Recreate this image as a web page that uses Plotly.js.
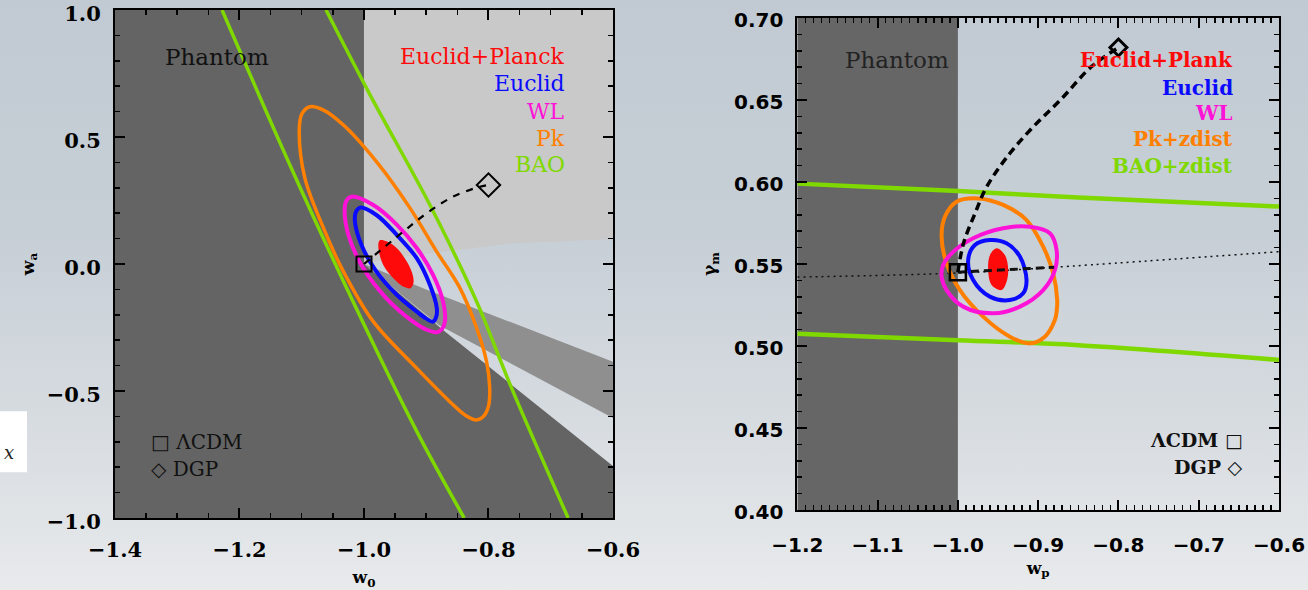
<!DOCTYPE html>
<html>
<head>
<meta charset="utf-8">
<script src="https://cdn.plot.ly/plotly-3.0.1.min.js"></script>
<style>
  html, body { margin: 0; padding: 0; }
  body {
    width: 1308px; height: 590px; overflow: hidden;
    background: linear-gradient(180deg, #c1cad3 0%, #c7cfd6 40%, #d6dbe0 70%, #e8eaec 100%);
  }
  #chart { width: 1308px; height: 590px; }
</style>
</head>
<body>
<div id="chart"></div>
<script>
// ---------- Left panel: (w0, wa) ----------
// background regions
const phantomDarkW0 = [-1.4, -1.4, -1.0, -1.0, -0.87, -0.6, -0.6, -1.4];
const phantomDarkWa = [-1.0, 1.0, 1.0, 0.0, -0.266, -0.795, -1.0, -1.0];
const lightGrayW0 = [-1.0, -1.0, -0.6, -0.6, -0.765, -0.878, -0.95, -1.0];
const lightGrayWa = [0.0, 1.0, 1.0, 0.098, 0.081, 0.048, 0.025, 0.0];
const bandW0 = [-1.0, -0.90, -0.6, -0.6, -0.88, -1.0];
const bandWa = [0.0, -0.10, -0.385, -0.606, -0.24, 0.0];

// contours (closed rings start and end mid-side)
const bao1W0 = [-1.228, -1.119, -1.018, -0.915, -0.839];
const bao1Wa = [1.0, 0.39, -0.146, -0.66, -1.0];
const bao2W0 = [-1.061, -0.990, -0.894, -0.819, -0.765, -0.672];
const bao2Wa = [1.0, 0.665, 0.232, -0.148, -0.476, -1.0];
const pkW0 = [-0.926, -0.883, -0.846, -0.819, -0.803, -0.798, -0.800, -0.808, -0.819, -0.836, -0.862, -0.915, -0.985, -1.033, -1.065, -1.095, -1.104, -1.100, -1.087, -1.065, -1.033, -0.980, -0.926];
const pkWa = [0.220, 0.048, -0.094, -0.252, -0.385, -0.488, -0.560, -0.600, -0.614, -0.597, -0.542, -0.411, -0.227, -0.030, 0.141, 0.339, 0.520, 0.590, 0.619, 0.606, 0.547, 0.403, 0.220];
const wlW0 = [-0.915, -0.889, -0.873, -0.870, -0.875, -0.883, -0.900, -0.921, -0.964, -1.001, -1.025, -1.031, -1.028, -1.020, -0.985, -0.947, -0.915];
const wlWa = [0.062, -0.043, -0.148, -0.227, -0.257, -0.269, -0.258, -0.227, -0.135, -0.017, 0.114, 0.219, 0.250, 0.265, 0.232, 0.154, 0.062];
const euclidW0 = [-0.915, -0.894, -0.883, -0.884, -0.889, -0.900, -0.915, -0.947, -0.980, -1.004, -1.0145, -1.013, -1.006, -0.980, -0.947, -0.915];
const euclidWa = [0.022, -0.083, -0.174, -0.208, -0.227, -0.215, -0.188, -0.122, -0.030, 0.075, 0.167, 0.205, 0.222, 0.193, 0.114, 0.022];
const planckW0 = [-0.931, -0.921, -0.921, -0.926, -0.936, -0.947, -0.969, -0.977, -0.974, -0.953, -0.931];
const planckWa = [0.009, -0.050, -0.080, -0.096, -0.090, -0.070, -0.004, 0.075, 0.094, 0.075, 0.009];
const dgpPathW0 = [-1.0, -0.937, -0.899, -0.857, -0.814, -0.8];
const dgpPathWa = [0.0, 0.127, 0.200, 0.265, 0.304, 0.311];
const lcdmLeft = [-1.0, 0.0];
const dgpLeft = [-0.8, 0.311];

// ---------- Right panel: (wp, gamma_m) ----------
const phantomWp = [-1.2, -1.2, -1.0, -1.0, -1.2];
const phantomGm = [0.4, 0.7, 0.7, 0.4, 0.4];
const baoUpWp = [-1.2, -1.0, -0.85, -0.6];
const baoUpGm = [0.599, 0.5945, 0.5905, 0.585];
const baoLoWp = [-1.2, -1.0, -0.85, -0.6];
const baoLoGm = [0.5075, 0.5035, 0.5005, 0.4915];
const pkzWp = [-0.8938, -0.8813, -0.8763, -0.8770, -0.8792, -0.8917, -0.9103, -0.9352, -0.9685, -0.9975, -1.0141, -1.0203, -1.0162, -1.0016, -0.9747, -0.9436, -0.9145, -0.8938];
const pkzGm = [0.5606, 0.5443, 0.528, 0.5210, 0.5159, 0.5057, 0.5016, 0.5057, 0.5179, 0.5341, 0.5504, 0.5667, 0.5788, 0.588, 0.590, 0.586, 0.5768, 0.5606];
const wlRWp = [-0.8792, -0.8938, -0.9228, -0.956, -0.9934, -1.0141, -1.0203, -1.0183, -1.0078, -0.981, -0.9436, -0.9103, -0.8854, -0.8771, -0.8792];
const wlRGm = [0.5463, 0.5341, 0.5240, 0.5199, 0.5240, 0.5341, 0.5423, 0.5494, 0.5565, 0.5657, 0.5718, 0.5727, 0.5687, 0.5585, 0.5463];
const euclidRWp = [-0.9145, -0.9187, -0.9352, -0.9602, -0.981, -0.9872, -0.9788, -0.9601, -0.9394, -0.9228, -0.9145];
const euclidRGm = [0.5402, 0.5321, 0.528, 0.5301, 0.5402, 0.5524, 0.5616, 0.5646, 0.5626, 0.5545, 0.5402];
const planckRWp = [-0.9373, -0.940, -0.9456, -0.958, -0.9623, -0.960, -0.9518, -0.9415, -0.9373];
const planckRGm = [0.5463, 0.5382, 0.5341, 0.5372, 0.5463, 0.5555, 0.5596, 0.5555, 0.5463];
const dgpRWp = [-1.0, -0.993, -0.9786, -0.9641, -0.9352, -0.906, -0.8723, -0.8337, -0.80];
const dgpRGm = [0.545, 0.5626, 0.5809, 0.5971, 0.6175, 0.6337, 0.650, 0.6703, 0.682];
const flatRWp = [-1.2, -1.0, -0.88, -0.6];
const flatRGm = [0.542, 0.5445, 0.548, 0.5575];
const dashRWp = [-1.0, -0.94, -0.88];
const dashRGm = [0.5450, 0.5465, 0.5480];
const lcdmRight = [-1.0, 0.545];
const dgpRight = [-0.8, 0.682];

// ---------- colours ----------
const RED = '#ff0a0a', BLUE = '#0a0aff', MAGENTA = '#ff12d8', ORANGE = '#ff7f00', GREEN = '#7fd800';
const DARK = '#646464', LIGHT = '#c9c9c9', BAND = '#8f8f8f';

function area(x, y, color, xa, ya) {
  return {x, y, xaxis: xa, yaxis: ya, type: 'scatter', mode: 'lines', fill: 'toself',
          fillcolor: color, line: {width: 0, color: color}, hoverinfo: 'skip'};
}
function curve(x, y, color, width, xa, ya, extra) {
  return Object.assign({x, y, xaxis: xa, yaxis: ya, type: 'scatter', mode: 'lines',
          line: {color, width, shape: 'spline', smoothing: 1}, hoverinfo: 'skip'}, extra || {});
}
function marker(pt, symbol, size, lw, xa, ya) {
  return {x: [pt[0]], y: [pt[1]], xaxis: xa, yaxis: ya, type: 'scatter', mode: 'markers',
          marker: {symbol, size, color: '#000', line: {color: '#000', width: lw}},
          cliponaxis: false, hoverinfo: 'skip'};
}

const traces = [
  // left panel
  area(phantomDarkW0, phantomDarkWa, DARK, 'x', 'y'),
  area(lightGrayW0, lightGrayWa, LIGHT, 'x', 'y'),
  area(bandW0, bandWa, BAND, 'x', 'y'),
  curve(bao1W0, bao1Wa, GREEN, 3.5, 'x', 'y'),
  curve(bao2W0, bao2Wa, GREEN, 3.5, 'x', 'y'),
  curve(pkW0, pkWa, ORANGE, 3.5, 'x', 'y'),
  curve(wlW0, wlWa, MAGENTA, 4, 'x', 'y'),
  curve(euclidW0, euclidWa, BLUE, 4, 'x', 'y'),
  curve(planckW0, planckWa, RED, 0, 'x', 'y', {fill: 'toself', fillcolor: RED}),
  curve(dgpPathW0, dgpPathWa, '#000', 2.2, 'x', 'y', {line: {color: '#000', width: 2.2, dash: '7px,7px', shape: 'spline'}}),
  marker(lcdmLeft, 'square-open', 15, 2, 'x', 'y'),
  marker(dgpLeft, 'diamond-open', 18, 2, 'x', 'y'),
  // right panel
  area(phantomWp, phantomGm, '#666666', 'x2', 'y2'),
  curve(baoUpWp, baoUpGm, GREEN, 4.5, 'x2', 'y2'),
  curve(baoLoWp, baoLoGm, GREEN, 4.5, 'x2', 'y2'),
  curve(flatRWp, flatRGm, '#111', 1.5, 'x2', 'y2', {line: {color: '#111', width: 1.5, dash: '2px,4px', shape: 'spline'}}),
  curve(pkzWp, pkzGm, ORANGE, 4, 'x2', 'y2'),
  curve(wlRWp, wlRGm, MAGENTA, 4, 'x2', 'y2'),
  curve(euclidRWp, euclidRGm, BLUE, 4, 'x2', 'y2'),
  curve(planckRWp, planckRGm, RED, 0, 'x2', 'y2', {fill: 'toself', fillcolor: RED}),
  curve(dashRWp, dashRGm, '#111', 3, 'x2', 'y2', {line: {color: '#111', width: 3, dash: '8px,5px'}}),
  curve(dgpRWp, dgpRGm, '#000', 3.5, 'x2', 'y2', {line: {color: '#000', width: 3.5, dash: '8px,5px', shape: 'spline'}}),
  marker(lcdmRight, 'square-open', 16, 2.5, 'x2', 'y2'),
  marker(dgpRight, 'diamond-open', 13, 3, 'x2', 'y2')
];

const serifTick = {family: 'DejaVu Serif', size: 21, color: '#000', weight: 'bold'};
const sansTick = {family: 'DejaVu Sans', size: 20, color: '#000', weight: 'bold'};
const titleFont = {family: 'DejaVu Serif', size: 17, color: '#000', weight: 'bold'};

function axis(extra) {
  return Object.assign({
    showgrid: false, zeroline: false, showline: true, linecolor: '#000', linewidth: 2,
    mirror: 'allticks', ticks: 'inside', ticklen: 10, tickwidth: 2, tickcolor: '#000',
    ticklabeloverflow: 'allow', fixedrange: true
  }, extra);
}

const layout = {
  width: 1308, height: 590,
  margin: {l: 115, r: 29, t: 10, b: 72},
  paper_bgcolor: 'rgba(0,0,0,0)', plot_bgcolor: 'rgba(0,0,0,0)',
  showlegend: false,
  xaxis: axis({domain: [0, 0.4278], range: [-1.4, -0.6], dtick: 0.2, tickformat: '.1f',
    minor: {dtick: 0.05, ticklen: 5, tickwidth: 1.5, tickcolor: '#000', ticks: 'inside'},
    tickfont: serifTick, ticklabelstandoff: 12, anchor: 'y',
    title: {text: 'w<sub>0</sub>', font: titleFont, standoff: 10}}),
  yaxis: axis({domain: [0, 1], range: [-1, 1], dtick: 0.5, tickformat: '.1f',
    minor: {dtick: 0.1, ticklen: 5, tickwidth: 1.5, tickcolor: '#000', ticks: 'inside'},
    tickfont: serifTick, ticklabelstandoff: 8, ticklabelshift: 4, anchor: 'x',
    title: {text: 'w<sub>a</sub>', font: titleFont, standoff: 8}}),
  xaxis2: axis({domain: [0.5862, 1], range: [-1.2, -0.6], dtick: 0.1, tickformat: '.1f',
    minor: {dtick: 0.01, ticklen: 5, tickwidth: 1.5, tickcolor: '#000', ticks: 'inside'},
    tickfont: sansTick, ticklabelstandoff: 16, anchor: 'y2',
    title: {text: 'w<sub>p</sub>', font: titleFont, standoff: 6}}),
  yaxis2: axis({domain: [0.01575, 0.9843], range: [0.4, 0.7], dtick: 0.05, tickformat: '.2f',
    minor: {dtick: 0.01, ticklen: 5, tickwidth: 1.5, tickcolor: '#000', ticks: 'inside'},
    tickfont: sansTick, ticklabelstandoff: 8, ticklabelshift: 2, anchor: 'x2',
    title: {text: 'γ<sub>m</sub>', font: titleFont, standoff: 14}}),
  shapes: [
    {type: 'rect', xref: 'paper', yref: 'paper', x0: -0.0988, x1: -0.0756, y0: 0.09, y1: 0.21,
     fillcolor: '#ffffff', line: {width: 0}, layer: 'below'}
  ],
  annotations: []
};

const serifReg = (size, color) => ({family: 'DejaVu Serif', size, color});
const serifBold = (size, color) => ({family: 'DejaVu Serif', size, color, weight: 'bold'});
function note(text, x, y, xref, yref, font, xanchor) {
  layout.annotations.push({text, x, y, xref, yref, font, xanchor: xanchor || 'center',
                           yanchor: 'middle', showarrow: false});
}

// left panel labels
note('Phantom', -1.236, 0.815, 'x', 'y', serifReg(23, '#111'));
note('Euclid+Planck', -0.674, 0.815, 'x', 'y', serifReg(22, RED), 'right');
note('Euclid', -0.674, 0.709, 'x', 'y', serifReg(22, BLUE), 'right');
note('WL', -0.674, 0.600, 'x', 'y', serifReg(22, MAGENTA), 'right');
note('Pk', -0.674, 0.496, 'x', 'y', serifReg(22, ORANGE), 'right');
note('BAO', -0.674, 0.392, 'x', 'y', serifReg(22, GREEN), 'right');
note('□ ΛCDM', -1.345, -0.700, 'x', 'y', serifReg(20, '#111'), 'left');
note('◇ DGP', -1.345, -0.806, 'x', 'y', serifReg(20, '#111'), 'left');

// right panel labels
note('Phantom', -1.076, 0.6744, 'x2', 'y2', serifReg(23, '#222'));
note('Euclid+Plank', -0.655, 0.6744, 'x2', 'y2', serifBold(20, RED), 'right');
note('Euclid', -0.655, 0.6573, 'x2', 'y2', serifBold(20, BLUE), 'right');
note('WL', -0.655, 0.6421, 'x2', 'y2', serifBold(20, MAGENTA), 'right');
note('Pk+zdist', -0.655, 0.6262, 'x2', 'y2', serifBold(20, ORANGE), 'right');
note('BAO+zdist', -0.655, 0.6098, 'x2', 'y2', serifBold(20, GREEN), 'right');
note('ΛCDM □', -0.642, 0.4427, 'x2', 'y2', serifBold(19, '#111'), 'right');
note('DGP ◇', -0.642, 0.4262, 'x2', 'y2', serifBold(19, '#111'), 'right');

// edge of a neighbouring box
note('<i>x</i>', -0.0975, 0.128, 'paper', 'paper', {family: 'DejaVu Serif', size: 18, color: '#222'}, 'left');

Plotly.newPlot('chart', traces, layout, {staticPlot: true, displayModeBar: false});
</script>
</body>
</html>
